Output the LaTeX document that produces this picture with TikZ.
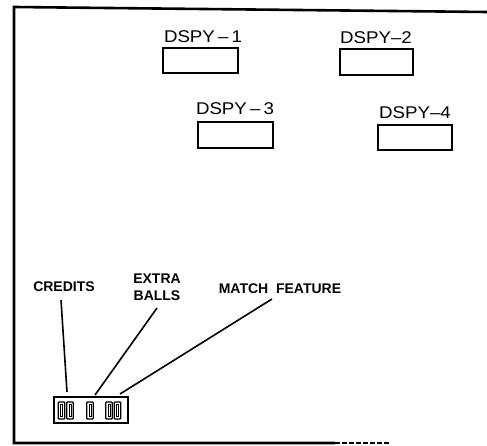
\documentclass[tikz,border=0pt]{standalone}
\usepackage{fontspec}
\usepackage{graphicx}
\setmainfont{Liberation Sans}
\tikzset{
  dlabel/.style={inner sep=0pt, font=\fontsize{17}{17}\selectfont},
  dbox/.style={draw, line width=1.8pt, minimum width=#1, minimum height=25pt, inner sep=0pt},
  blabel/.style={inner sep=0pt, font=\fontsize{14}{14}\selectfont\bfseries, align=center},
  leader/.style={line width=1.6pt},
  frameline/.style={line width=2.6pt},
  digit/.style={draw, line width=1.3pt, minimum width=6.5pt, minimum height=17pt, inner sep=0pt, rounded corners=0.8pt},
  digitin/.style={draw, line width=0.8pt, minimum width=2.2pt, minimum height=12pt, inner sep=0pt}
}
\begin{document}
\begin{tikzpicture}[x=1pt, y=-1pt]
\useasboundingbox (0,0) rectangle (487,446);
% frame
\coordinate (ftr) at (487,12);
\coordinate (ftl) at (14,7);
\coordinate (fbl) at (14,443);
\coordinate (fbm) at (335,443);
\coordinate (fbr) at (390,443);
\draw[frameline, line join=miter] (ftr) -- (ftl) -- (fbl) -- (fbm);
\draw[line width=2pt, dash pattern=on 5pt off 2pt] (fbm) -- (fbr);
% displays
\node[dlabel] (l1) at (203,37) {\scalebox{1.1}[1]{DSPY\,–\,1}};
\node[dbox=75pt] (b1) at (200.5,60.5) {};
\node[dlabel] (l2) at (376,37.5) {\scalebox{1.1}[1]{DSPY–2}};
\node[dbox=73pt, minimum height=26pt] (b2) at (376.5,62) {};
\node[dlabel] (l3) at (235,108.5) {\scalebox{1.1}[1]{DSPY\,–\,3}};
\node[dbox=75pt, minimum height=26pt] (b3) at (235.5,135) {};
\node[dlabel] (l4) at (415,113) {\scalebox{1.1}[1]{DSPY–4}};
\node[dbox=74pt] (b4) at (415,137.5) {};
% labels
\node[blabel] (cr) at (64,287) {CREDITS};
\node[blabel] (eb) at (157,287.5) {EXTRA\\[3pt]BALLS};
\node[blabel] (mf) at (280,289) {MATCH\ \ FEATURE};
% digit box
\node[draw, line width=1.8pt, minimum width=74pt, minimum height=26pt, inner sep=0pt] (db) at (91,410) {};
\foreach \n/\x in {d1/61.5, d2/70, d3/90, d4/109, d5/117.5}{
  \node[digit] (\n) at (\x,410.5) {};
  \node[digitin] (\n i) at (\x,410.5) {};
}
% leaders
\coordinate (cs) at (61,300);
\coordinate (ce) at (67,392);
\coordinate (es) at (157,308);
\coordinate (ee) at (95,395);
\coordinate (ms) at (272,299);
\coordinate (me) at (120,394);
\draw[leader] (cs) -- (ce);
\draw[leader] (es) -- (ee);
\draw[leader] (ms) -- (me);
\end{tikzpicture}
\end{document}
